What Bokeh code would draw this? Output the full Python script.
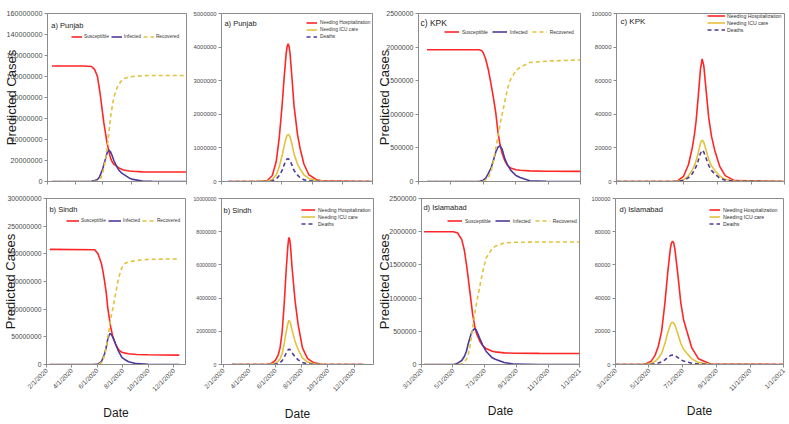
import pandas as pd
from bokeh.plotting import figure
from bokeh.layouts import row, column
from bokeh.models import (Range1d, FixedTicker, NumeralTickFormatter, CustomJSTickFormatter,
                          Legend, LegendItem, Label, ColumnDataSource)
from bokeh.embed import file_html
from bokeh.resources import INLINE

MILLION = 1e6
THOUSAND = 1e3

punjab_sir_dates = ["2020-03-11", "2020-05-20", "2020-06-06", "2020-06-13", "2020-06-19", "2020-06-23",
                    "2020-06-26", "2020-06-30", "2020-07-03", "2020-07-07", "2020-07-10", "2020-07-14",
                    "2020-07-18", "2020-07-21", "2020-07-25", "2020-07-31", "2020-08-04", "2020-08-10",
                    "2020-08-15", "2020-08-29", "2020-09-05", "2020-09-26", "2020-10-17", "2020-12-31"]
punjab_susceptible = [110, 110, 109.5, 106.5, 100, 89, 80, 66, 56, 45, 37, 29, 22, 19, 16.5, 14.6, 13.2, 12,
                      11, 10, 9.7, 9.2, 9, 9]
punjab_infected = [0, 0.05, 0.3, 0.9, 2, 4, 7, 11.5, 16, 22, 27, 30, 28, 25, 20, 14.6, 11.5, 8.5, 7, 3, 2,
                   0.5, 0.1, 0]
punjab_recovered = [0, 0, 0, 0.2, 0.5, 1.2, 3, 7, 13, 21, 31, 46, 62, 70, 80, 88, 92, 95.5, 98, 99.5, 100,
                    100.7, 101, 101]

punjab_hosp_dates = ["2020-03-15", "2020-05-15", "2020-06-02", "2020-06-12", "2020-06-20", "2020-06-26",
                     "2020-07-02", "2020-07-06", "2020-07-10", "2020-07-12", "2020-07-14", "2020-07-16",
                     "2020-07-18", "2020-07-22", "2020-07-26", "2020-08-02", "2020-08-07", "2020-08-15",
                     "2020-08-25", "2020-09-10", "2020-09-25", "2021-01-01"]
punjab_hospital = [0, 0, 0.03, 0.18, 0.6, 1.3, 2.3, 3.1, 3.8, 4.02, 4.1, 4.02, 3.8, 3.05, 2.25, 1.4, 1.0, 0.52,
                   0.2, 0.05, 0.01, 0]
punjab_icu = [0, 0, 0.01, 0.06, 0.2, 0.44, 0.78, 1.06, 1.3, 1.37, 1.4, 1.38, 1.32, 1.1, 0.82, 0.52, 0.38, 0.2,
              0.09, 0.025, 0.005, 0]
punjab_deaths = [0, 0, 0, 0.02, 0.07, 0.18, 0.33, 0.5, 0.63, 0.67, 0.68, 0.66, 0.62, 0.48, 0.33, 0.19, 0.12,
                 0.05, 0.02, 0.005, 0, 0]

kpk_sir_dates = ["2020-03-17", "2020-06-23", "2020-06-28", "2020-07-01", "2020-07-06", "2020-07-11",
                 "2020-07-16", "2020-07-20", "2020-07-25", "2020-07-29", "2020-08-02", "2020-08-06",
                 "2020-08-11", "2020-08-16", "2020-08-22", "2020-09-01", "2020-09-09", "2020-09-27",
                 "2020-10-28", "2021-01-01"]
kpk_susceptible = [1.96, 1.96, 1.95, 1.92, 1.82, 1.66, 1.45, 1.27, 1.02, 0.74, 0.55, 0.42, 0.31, 0.24, 0.2,
                   0.175, 0.168, 0.158, 0.152, 0.15]
kpk_infected = [0, 0, 0.01, 0.02, 0.05, 0.12, 0.2, 0.3, 0.44, 0.51, 0.53, 0.48, 0.34, 0.25, 0.17, 0.09,
                0.06, 0.01, 0.002, 0]
kpk_recovered = [0, 0, 0, 0.005, 0.02, 0.06, 0.15, 0.28, 0.5, 0.67, 0.85, 1.0, 1.19, 1.38, 1.52, 1.65, 1.7,
                 1.77, 1.79, 1.81]

kpk_hosp_dates = ["2020-03-01", "2020-06-10", "2020-06-20", "2020-07-01", "2020-07-10", "2020-07-17",
                  "2020-07-21", "2020-07-24", "2020-07-28", "2020-08-01", "2020-08-04", "2020-08-07",
                  "2020-08-11", "2020-08-16", "2020-08-21", "2020-08-27", "2020-09-05", "2020-09-15",
                  "2020-10-02", "2021-01-01"]
kpk_hospital = [0, 0, 0.3, 3, 10, 20, 28, 36, 51, 67, 73, 69, 55, 38, 27, 18.5, 9, 3.5, 0.5, 0]
kpk_icu = [0, 0, 0.1, 1, 3.4, 6.8, 9.6, 12.3, 17.3, 22.8, 24.7, 23.4, 18.8, 13.2, 9.4, 6.6, 3.3, 1.3, 0.2, 0]
kpk_deaths = [0, 0, 0.05, 0.6, 2.2, 4.6, 6.8, 8.8, 12.5, 16.8, 18.6, 17.5, 14, 9.6, 6.6, 4.5, 2, 0.8, 0.1, 0]

sindh_sir_dates = ["2020-02-09", "2020-05-26", "2020-06-03", "2020-06-11", "2020-06-15", "2020-06-19",
                   "2020-06-23", "2020-06-26", "2020-06-30", "2020-07-02", "2020-07-04", "2020-07-09",
                   "2020-07-15", "2020-07-22", "2020-07-30", "2020-08-07", "2020-08-15", "2020-09-03",
                   "2020-10-01", "2020-12-14"]
sindh_susceptible = [208, 207.5, 200, 183, 168, 149, 128, 104, 84, 74, 65, 48, 37, 27, 22, 20.6, 19.5, 18,
                     17.5, 17]
sindh_infected = [0, 0.2, 0.6, 5, 12, 20, 32, 45, 54, 56, 54.5, 49, 37, 24, 13, 8.5, 5, 1.5, 0.3, 0]
sindh_recovered = [0, 0, 0, 3, 8, 18, 32, 48, 65, 76, 85, 103, 128, 156, 175, 183, 185, 188, 190, 191]

sindh_hosp_dates = ["2020-02-21", "2020-05-10", "2020-05-21", "2020-06-01", "2020-06-08", "2020-06-12",
                    "2020-06-17", "2020-06-22", "2020-06-26", "2020-06-30", "2020-07-02", "2020-07-03",
                    "2020-07-05", "2020-07-06", "2020-07-10", "2020-07-17", "2020-07-24", "2020-08-03",
                    "2020-08-15", "2020-08-30", "2020-09-18", "2020-12-24"]
sindh_hospital = [0, 0, 0.03, 0.25, 0.6, 1.0, 2.0, 3.8, 5.6, 7.1, 7.58, 7.65, 7.45, 7.2, 5.8, 3.8, 2.4, 1.0,
                  0.35, 0.1, 0.01, 0]
sindh_icu = [0, 0, 0.01, 0.08, 0.2, 0.34, 0.68, 1.3, 1.93, 2.45, 2.62, 2.64, 2.58, 2.5, 2.05, 1.38, 0.9, 0.4,
             0.15, 0.04, 0.005, 0]
sindh_deaths = [0, 0, 0, 0.02, 0.06, 0.11, 0.23, 0.45, 0.68, 0.86, 0.91, 0.92, 0.9, 0.87, 0.7, 0.46, 0.28,
                0.12, 0.04, 0.01, 0, 0]

isb_sir_dates = ["2020-03-06", "2020-05-02", "2020-05-10", "2020-05-18", "2020-05-23", "2020-05-27",
                 "2020-05-30", "2020-06-02", "2020-06-05", "2020-06-08", "2020-06-12", "2020-06-15",
                 "2020-06-22", "2020-06-27", "2020-07-04", "2020-07-16", "2020-07-22", "2020-08-08",
                 "2020-08-28", "2020-10-15", "2021-01-01"]
isb_susceptible = [2.0, 2.0, 1.98, 1.88, 1.72, 1.51, 1.33, 1.14, 0.95, 0.76, 0.58, 0.48, 0.35, 0.29, 0.24,
                   0.2, 0.19, 0.175, 0.17, 0.167, 0.165]
isb_infected = [0, 0, 0.02, 0.06, 0.12, 0.2, 0.3, 0.38, 0.46, 0.51, 0.54, 0.52, 0.39, 0.3, 0.2, 0.1, 0.08,
                0.03, 0.005, 0, 0]
isb_recovered = [0, 0, 0, 0.01, 0.04, 0.08, 0.13, 0.24, 0.38, 0.55, 0.75, 0.9, 1.18, 1.38, 1.6, 1.75, 1.78,
                 1.83, 1.84, 1.845, 1.845]

isb_hosp_dates = ["2020-03-01", "2020-04-15", "2020-04-25", "2020-05-05", "2020-05-12", "2020-05-18",
                  "2020-05-24", "2020-05-30", "2020-06-04", "2020-06-09", "2020-06-11", "2020-06-13",
                  "2020-06-15", "2020-06-17", "2020-06-22", "2020-06-28", "2020-07-03", "2020-07-09",
                  "2020-07-18", "2020-07-30", "2020-08-21", "2021-01-01"]
isb_hospital = [0, 0, 0.3, 2, 5.5, 11, 20, 37, 55, 70, 73.3, 74.3, 73.2, 70, 56, 37, 27, 20, 10, 3.5, 0.3, 0]
isb_icu = [0, 0, 0.1, 0.7, 1.9, 3.8, 6.8, 12.6, 18.8, 23.9, 25.1, 25.4, 25.0, 23.9, 19.1, 12.6, 9.2, 6.8, 3.4,
           1.2, 0.1, 0]
isb_deaths = [0, 0, 0.02, 0.15, 0.4, 0.85, 1.5, 2.8, 4.2, 5.4, 5.6, 5.7, 5.6, 5.4, 4.3, 2.8, 2.1, 1.5, 0.8,
              0.3, 0.02, 0]

ticks_mar = ["2020-03-01", "2020-05-01", "2020-07-01", "2020-09-01", "2020-11-01", "2021-01-01"]
ticks_feb = ["2020-02-01", "2020-04-01", "2020-06-01", "2020-08-01", "2020-10-01", "2020-12-01"]

sir_labels = ["Susceptible", "Infected", "Recovered"]
hosp_labels = ["Needing Hospitalization", "Needing ICU care", "Deaths"]

FONT = "Liberation Sans"
RED = "#FF2626"
PURPLE = "#4F3A9A"
GOLD = "#E3C23E"
GRAY = "#8C8C8C"


def to_ms(d):
    return pd.Timestamp(d).value / 1e6


def make_panel(box, xr, ymax, ystep, xticks, tick_font, bottom, date_standoff, ylabel, ylabel_standoff,
               title, title_size, title_dx, title_dy, dates, series, unit, kind,
               leg_loc, glyph_w, leg_font, leg_standoff, leg_spacing):
    w, h, lb, rb, tb, bb = box
    fw, fh = w - lb - rb, h - tb - bb
    x0, x1 = to_ms(xr[0]), to_ms(xr[1])
    p = figure(width=w, height=h, x_axis_type="datetime",
               x_range=Range1d(x0, x1), y_range=Range1d(0, ymax),
               min_border_left=lb, min_border_right=rb, min_border_top=tb, min_border_bottom=bb,
               output_backend="svg", toolbar_location=None, title=None)
    p.grid.visible = False
    p.outline_line_color = GRAY
    p.background_fill_color = "white"
    p.border_fill_color = "white"
    for ax in (p.xaxis[0], p.yaxis[0]):
        ax.axis_line_color = GRAY
        ax.major_tick_line_color = GRAY
        ax.minor_tick_line_color = None
        ax.major_tick_in = 0
        ax.major_tick_out = 3
        ax.major_label_text_font = FONT
        ax.major_label_text_color = "#4a4a4a"
        ax.major_label_standoff = 2

    yax = p.yaxis[0]
    yax.major_label_text_font_size = tick_font
    yax.ticker = FixedTicker(ticks=[i * ystep for i in range(int(round(ymax / ystep)) + 1)])
    yax.formatter = NumeralTickFormatter(format="0")
    if ylabel:
        yax.axis_label = "Predicted Cases"
        yax.axis_label_text_font = FONT
        yax.axis_label_text_font_size = "13px"
        yax.axis_label_text_font_style = "normal"
        yax.axis_label_text_color = "#1a1a1a"
        yax.axis_label_standoff = ylabel_standoff

    xax = p.xaxis[0]
    xax.ticker = FixedTicker(ticks=[to_ms(d) for d in xticks])
    if bottom:
        xax.formatter = CustomJSTickFormatter(code="""
            const d = new Date(tick);
            return (d.getUTCMonth() + 1) + "/" + d.getUTCDate() + "/" + d.getUTCFullYear();
        """)
        xax.major_label_text_font_size = "6.5px"
        xax.major_label_orientation = 0.785398
        xax.axis_label = "Date"
        xax.axis_label_text_font = FONT
        xax.axis_label_text_font_size = "12px"
        xax.axis_label_text_font_style = "normal"
        xax.axis_label_text_color = "#1a1a1a"
        xax.axis_label_standoff = date_standoff
    else:
        xax.formatter = CustomJSTickFormatter(code="return '';")
        xax.major_label_text_font_size = "1px"
        xax.major_label_standoff = 0

    if kind == "sir":
        styles = [(RED, "solid"), (PURPLE, "solid"), (GOLD, "4 3")]
        labels = sir_labels
    else:
        styles = [(RED, "solid"), (GOLD, "solid"), (PURPLE, "4 3")]
        labels = hosp_labels

    x = pd.to_datetime(dates)
    items = []
    for (vals, (col, dash), lab) in zip(series, styles, labels):
        src = ColumnDataSource(dict(x=x, y=[v * unit for v in vals]))
        r = p.line("x", "y", source=src, line_color=col, line_width=1.6, line_dash=dash)
        items.append(LegendItem(label=lab, renderers=[r]))

    leg = Legend(items=items, location=leg_loc,
                 orientation="horizontal" if kind == "sir" else "vertical",
                 glyph_width=glyph_w, glyph_height=7, label_height=7, label_width=1,
                 label_text_font=FONT, label_text_font_size=leg_font, label_text_color="#333333",
                 label_standoff=leg_standoff, spacing=leg_spacing, padding=0, margin=0,
                 border_line_color=None, background_fill_alpha=0)
    p.add_layout(leg)

    p.add_layout(Label(x=x0 + title_dx / fw * (x1 - x0), y=ymax * (1 - title_dy / fh), text=title,
                       text_font=FONT, text_font_size=title_size, text_color="#222222",
                       text_baseline="middle", text_align="left"))
    return p


# top row (height 188)
p1 = make_panel((190, 188, 41, 4, 6, 7), ("2020-03-01", "2021-01-01"), 160e6, 20e6, ticks_mar, "7.2px",
                False, 0, True, -15, "a) Punjab", "7.5px", 4, 13, punjab_sir_dates,
                [punjab_susceptible, punjab_infected, punjab_recovered], MILLION, "sir",
                (24, 141), 11, "4.8px", 2, 2)
p2 = make_panel((184, 188, 28, 2, 13, 3), ("2020-03-01", "2021-01-01"), 5e6, 1e6, ticks_mar, "5.9px",
                False, 0, False, 0, "a) Punjab", "7.5px", 3, 10, punjab_hosp_dates,
                [punjab_hospital, punjab_icu, punjab_deaths], MILLION, "hosp",
                (85, 141), 11, "4.8px", 3, 0)
p3 = make_panel((214, 188, 39, 8, 8, 3), ("2020-03-01", "2021-01-01"), 2.5e6, 0.5e6, ticks_mar, "7px",
                False, 0, True, -9, "c) KPK", "8.5px", 2, 10, kpk_sir_dates,
                [kpk_susceptible, kpk_infected, kpk_recovered], MILLION, "sir",
                (26, 146), 15, "5px", 3, 4)
p4 = make_panel((200, 188, 25, 4, 6, 4), ("2020-03-01", "2021-01-01"), 1e5, 2e4, ticks_mar, "6px",
                False, 0, False, 0, "c) KPK", "8px", 4, 9, kpk_hosp_dates,
                [kpk_hospital, kpk_icu, kpk_deaths], THOUSAND, "hosp",
                (91, 148), 18, "5.2px", 2, 0)

# bottom row (height 235)
p5 = make_panel((190, 235, 40, 5, 3, 54), ("2020-02-01", "2020-12-29"), 300e6, 50e6, ticks_feb, "6.8px",
                True, 8, True, -14, "b) Sindh", "7.5px", 3, 12, sindh_sir_dates,
                [sindh_susceptible, sindh_infected, sindh_recovered], MILLION, "sir",
                (20, 140), 13, "4.8px", 2, 2)
p6 = make_panel((184, 235, 28, 1, 9, 53), ("2020-01-28", "2021-01-15"), 10e6, 2e6, ticks_feb, "5.2px",
                True, 9, False, 0, "b) Sindh", "7.5px", 2, 13, sindh_hosp_dates,
                [sindh_hospital, sindh_icu, sindh_deaths], MILLION, "hosp",
                (80, 137), 14, "5px", 3, 0)
p7 = make_panel((214, 235, 41, 9, 8, 51), ("2020-03-01", "2021-01-01"), 2.5e6, 0.5e6, ticks_mar, "7px",
                True, 6, True, -6, "d) Islamabad", "7.5px", 2, 10, isb_sir_dates,
                [isb_susceptible, isb_infected, isb_recovered], MILLION, "sir",
                (26, 140), 15, "5px", 3, 4)
p8 = make_panel((200, 235, 27, 5, 10, 51), ("2020-03-01", "2021-01-01"), 1e5, 2e4, ticks_mar, "5.7px",
                True, 6, False, 0, "d) Islamabad", "7.5px", 4, 12, isb_hosp_dates,
                [isb_hospital, isb_icu, isb_deaths], THOUSAND, "hosp",
                (94, 137), 11, "5.2px", 3, 0)

layout = column(row(p1, p2, p3, p4, spacing=0), row(p5, p6, p7, p8, spacing=0), spacing=0)

open("out.html", "w").write(file_html(layout, INLINE))
